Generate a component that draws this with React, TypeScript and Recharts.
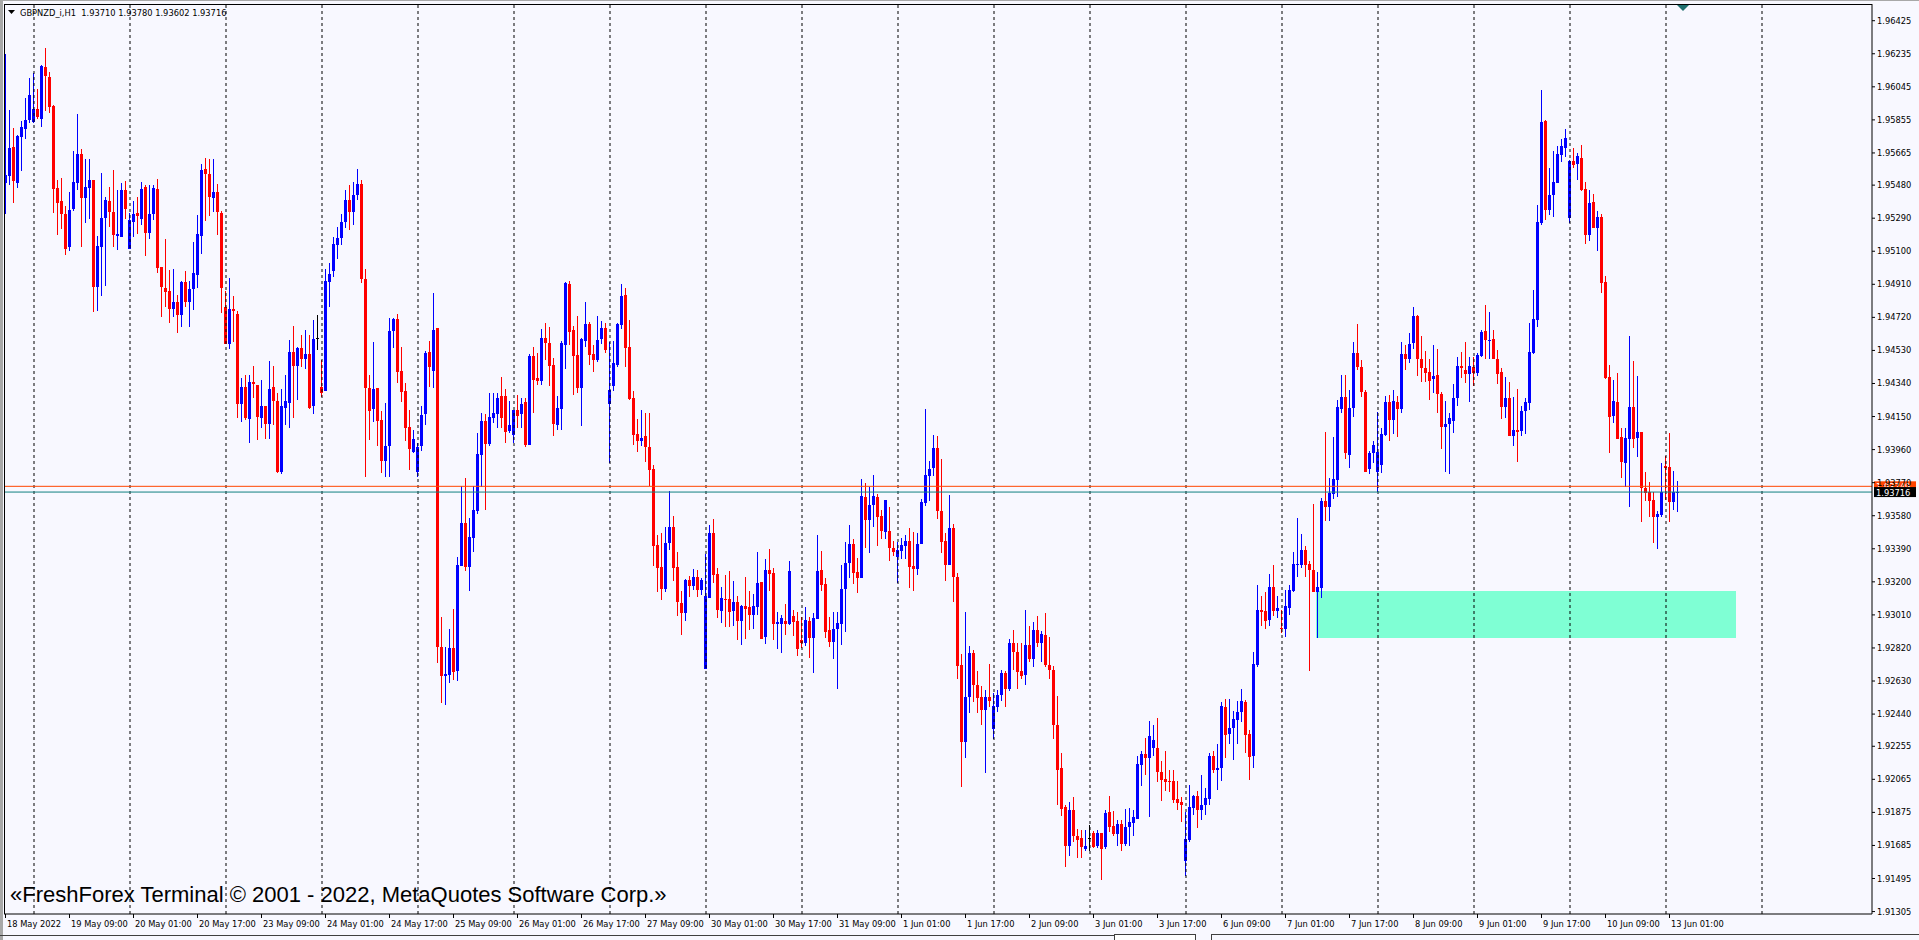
import React from 'react'
import { ComposedChart, Bar, XAxis, YAxis, ReferenceLine, ReferenceArea } from 'recharts'

// GBPNZD H1, prices stored in points (price x 100000)
const opensPts = [
  195494, 195534, 195699, 195494, 195758, 195800, 195854, 195845, 195917, 195860,
  196157, 196101, 195935, 195463, 195389, 195314, 195126, 195343, 195490, 195659,
  195408, 195465, 195509, 194896, 195126, 195293, 195389, 195325, 195189, 195184,
  195452, 195113, 195268, 195322, 195287, 195471, 195207, 195312, 195459, 195009,
  194888, 194873, 194766, 194808, 194733, 194923, 194806, 194881, 194965, 195189,
  195573, 195546, 195408, 195440, 195322, 194781, 194568, 194770, 194741, 194222,
  194321, 194138, 194350, 194333, 194141, 194212, 194105, 194318, 194239, 193831,
  194197, 194229, 194521, 194442, 194544, 194478, 194509, 194212, 194599, 194321,
  194298, 194925, 194984, 195138, 195176, 195267, 195395, 195326, 195424, 195487,
  194938, 194312, 194193, 194312, 194130, 193894, 193980, 194641, 194710, 194411,
  194296, 194090, 193948, 193831, 193980, 194164, 194519, 194413, 194657, 192823,
  192660, 192666, 192819, 192689, 193291, 193538, 193287, 193453, 193609, 193929,
  194124, 193994, 194143, 194164, 194268, 194268, 194067, 194044, 194187, 194164,
  194231, 193988, 194498, 194371, 194356, 194599, 194570, 194446, 194103, 194195,
  194563, 194912, 194647, 194503, 194316, 194586, 194682, 194509, 194475, 194595,
  194660, 194222, 194327, 194446, 194676, 194848, 194547, 194256, 194049, 194011,
  194038, 193975, 193848, 193411, 193287, 193156, 193421, 193513, 193287, 193080,
  193023, 193210, 193178, 193228, 193153, 192697, 193109, 193480, 193247, 193032,
  193101, 193099, 193032, 193084, 192977, 193061, 193055, 193007, 193055, 193199,
  192885, 193268, 193251, 192959, 192959, 192977, 192959, 193003, 192977, 192865,
  192850, 192977, 192877, 192986, 193268, 193187, 192923, 192854, 192931, 192959,
  193159, 193306, 193417, 193256, 193224, 193687, 193555, 193643, 193687, 193578,
  193488, 193492, 193396, 193344, 193379, 193408, 193436, 193293, 193274, 193417,
  193655, 193810, 193854, 193967, 193607, 193435, 193298, 193509, 193228, 192722,
  192281, 192538, 192791, 192607, 192540, 192463, 192540, 192354, 192482, 192549,
  192674, 192586, 192847, 192796, 192688, 192662, 192836, 192754, 192924, 192847,
  192894, 192720, 192694, 192379, 192131, 191907, 191684, 191886, 191737, 191727,
  191667, 191727, 191759, 191682, 191759, 191678, 191877, 191799, 191750, 191807,
  191691, 191791, 191812, 191839, 192150, 192209, 192188, 192247, 192243, 192109,
  192067, 192056, 192056, 191950, 191935, 191593, 191716, 191903, 191967, 191890,
  191916, 191954, 192201, 192116, 192131, 192481, 192328, 192358, 192407, 192454,
  192509, 192326, 192201, 192720, 193038, 193030, 192979, 193168, 193030, 192936,
  192928, 193051, 193147, 193294, 193298, 193381, 193302, 193268, 193140, 193162,
  193666, 193629, 193704, 193785, 194193, 194263, 193928, 194197, 194513, 194432,
  194293, 193850, 193938, 193833, 193871, 194043, 194233, 194130, 194233, 194195,
  194509, 194482, 194570, 194727, 194478, 194427, 194406, 194365, 194387, 194277,
  194091, 194110, 194126, 194254, 194440, 194417, 194394, 194436, 194402, 194498,
  194641, 194586, 194593, 194478, 194404, 194206, 194258, 194040, 194072, 194068,
  194183, 194229, 194513, 194704, 195260, 195850, 195337, 195423, 195494, 195653,
  195695, 195293, 195618, 195601, 195638, 195456, 195193, 195381, 195235, 195298,
  194923, 194379, 194153, 194235, 194030, 193884, 194019, 194202, 194024, 194059,
  193741, 193714, 193670, 193570, 193584, 193867, 193858, 193660, 193710,
]

const highsPts = [
  196234, 195912, 195808, 195768, 195850, 195979, 196096, 196126, 196030, 196170,
  196268, 196130, 195940, 195509, 195521, 195360, 195440, 195676, 195889, 195687,
  195632, 195630, 195509, 195187, 195550, 195412, 195471, 195567, 195452, 195490,
  195505, 195318, 195389, 195413, 195498, 195482, 195479, 195482, 195513, 195009,
  195170, 194992, 194996, 194846, 194931, 194986, 194927, 195153, 195308, 195601,
  195634, 195628, 195632, 195486, 195333, 194873, 194946, 194842, 194758, 194371,
  194388, 194388, 194442, 194333, 194360, 194212, 194469, 194442, 194287, 194308,
  194388, 194590, 194672, 194551, 194620, 194647, 194620, 194705, 194733, 194475,
  194999, 195032, 195184, 195237, 195313, 195452, 195481, 195500, 195572, 195510,
  195000, 194387, 194580, 194312, 194183, 194230, 194714, 194714, 194739, 194547,
  194341, 194187, 194072, 193996, 194210, 194528, 194584, 194858, 194657, 192996,
  192827, 192928, 193042, 193344, 193750, 193795, 193565, 193750, 194053, 194168,
  194164, 194283, 194283, 194287, 194377, 194308, 194241, 194187, 194272, 194254,
  194254, 194507, 194549, 194513, 194651, 194685, 194662, 194484, 194268, 194586,
  194923, 194931, 194670, 194730, 194599, 194806, 194691, 194561, 194728, 194701,
  194685, 194580, 194586, 194687, 194912, 194887, 194705, 194298, 194136, 194187,
  194168, 194168, 193871, 193469, 193478, 193517, 193722, 193578, 193371, 193147,
  193215, 193233, 193274, 193268, 193220, 193360, 193525, 193561, 193277, 193168,
  193241, 193260, 193205, 193118, 193067, 193228, 193147, 193130, 193371, 193199,
  193331, 193389, 193277, 193026, 193009, 193072, 193320, 193038, 193026, 192999,
  193055, 192999, 193019, 193469, 193377, 193222, 192998, 193026, 193026, 193297,
  193429, 193526, 193446, 193335, 193791, 193768, 193743, 193814, 193705, 193613,
  193670, 193628, 193436, 193431, 193450, 193471, 193511, 193488, 193479, 193678,
  194193, 193894, 194044, 194038, 193906, 193479, 193699, 193532, 193253, 192785,
  193026, 192831, 192808, 192687, 192603, 192578, 192726, 192559, 192578, 192693,
  192687, 192873, 192922, 192847, 192847, 193038, 192949, 192970, 193002, 192917,
  193021, 192885, 192715, 192545, 192216, 191918, 191935, 191961, 191780, 191776,
  191776, 191801, 191769, 191776, 191759, 191890, 191971, 191882, 191833, 191833,
  191897, 191903, 191886, 192201, 192230, 192301, 192403, 192379, 192418, 192173,
  192230, 192116, 192120, 192056, 191961, 191876, 192031, 191975, 191997, 192088,
  192018, 192216, 192230, 192269, 192507, 192524, 192528, 192460, 192513, 192584,
  192520, 192350, 192796, 193183, 193119, 193141, 193247, 193294, 193119, 193038,
  193151, 193183, 193370, 193566, 193476, 193406, 193321, 193646, 193257, 193683,
  194061, 193795, 194033, 194246, 194388, 194388, 194302, 194576, 194682, 194475,
  194302, 193953, 194011, 194177, 194082, 194268, 194273, 194302, 194268, 194580,
  194559, 194632, 194781, 194735, 194613, 194526, 194482, 194561, 194536, 194291,
  194239, 194172, 194337, 194494, 194523, 194576, 194490, 194490, 194513, 194647,
  194791, 194752, 194647, 194532, 194427, 194379, 194350, 194260, 194308, 194210,
  194254, 194689, 194877, 195366, 196027, 195854, 195576, 195678, 195705, 195743,
  195802, 195624, 195691, 195663, 195710, 195500, 195452, 195429, 195333, 195312,
  194957, 194446, 194360, 194398, 194082, 194082, 194613, 194471, 194385, 194063,
  193833, 193775, 193714, 193609, 193881, 193925, 194057, 193838, 193780,
]

const lowsPts = [
  195314, 195481, 195379, 195465, 195563, 195747, 195835, 195835, 195860, 195816,
  195908, 195896, 195321, 195195, 195226, 195076, 195103, 195333, 195452, 195126,
  195264, 195283, 194752, 194758, 194844, 194900, 195241, 195126, 195107, 195184,
  195285, 195113, 195184, 195197, 195251, 195074, 195170, 195279, 194973, 194724,
  194781, 194685, 194724, 194628, 194666, 194781, 194662, 194762, 194887, 195082,
  195276, 195304, 195327, 195193, 194747, 194568, 194536, 194580, 194141, 194118,
  194130, 193999, 194254, 194015, 194084, 194022, 194022, 194101, 193823, 193819,
  194101, 194086, 194141, 194247, 194436, 194421, 194193, 194164, 194532, 194264,
  194298, 194781, 194954, 195057, 195135, 195233, 195222, 195250, 195395, 194917,
  193804, 194015, 194118, 193980, 193827, 193804, 193804, 194542, 194341, 194235,
  194011, 193842, 193942, 193804, 193952, 194101, 194321, 194316, 192735, 192501,
  192490, 192620, 192635, 192631, 193291, 193264, 193149, 193373, 193590, 193747,
  193612, 193982, 194111, 194086, 194086, 193996, 194053, 193996, 194082, 194082,
  193975, 193988, 194172, 194331, 194331, 194475, 194327, 194040, 194072, 194072,
  194423, 194561, 194275, 194283, 194097, 194547, 194444, 194408, 194465, 194567,
  194517, 193885, 194298, 194433, 194651, 194436, 194245, 193988, 193948, 193982,
  193890, 193750, 193293, 193143, 193095, 193143, 193383, 193206, 193003, 192894,
  192977, 193115, 193153, 193115, 193126, 192697, 193109, 193195, 192992, 192965,
  192942, 192942, 192946, 192865, 192837, 192869, 192923, 192927, 193009, 192871,
  192843, 193147, 192865, 192814, 192791, 192892, 192952, 192888, 192774, 192818,
  192831, 192764, 192678, 192986, 193147, 192879, 192827, 192756, 192586, 192837,
  192913, 193224, 193189, 193138, 193224, 193392, 193366, 193517, 193408, 193446,
  193446, 193320, 193350, 193195, 193329, 193329, 193162, 193149, 193239, 193417,
  193636, 193666, 193810, 193559, 193367, 193207, 193298, 193086, 192639, 192022,
  192185, 192444, 192511, 192444, 192377, 192099, 192482, 192298, 192450, 192515,
  192482, 192574, 192694, 192584, 192641, 192605, 192737, 192709, 192828, 192741,
  192713, 192641, 192294, 191918, 191854, 191563, 191627, 191705, 191614, 191614,
  191652, 191652, 191669, 191673, 191486, 191663, 191763, 191737, 191684, 191652,
  191684, 191684, 191737, 191839, 192024, 192088, 191848, 192201, 192052, 191939,
  191997, 191993, 191929, 191886, 191818, 191508, 191705, 191861, 191784, 191833,
  191859, 191918, 192103, 192003, 192056, 192188, 192269, 192178, 192269, 192396,
  192216, 192060, 192131, 192709, 192949, 192928, 192949, 193002, 192992, 192907,
  192885, 193009, 193141, 193226, 193277, 193230, 192690, 193140, 192875, 193109,
  193551, 193551, 193678, 193687, 194172, 193906, 193852, 194149, 194417, 194264,
  193833, 193819, 193884, 193714, 193827, 194038, 194011, 194049, 194034, 194172,
  194417, 194459, 194536, 194383, 194350, 194350, 194245, 194283, 194168, 193961,
  193833, 193817, 194057, 194212, 194369, 194344, 194235, 194325, 194383, 194494,
  194480, 194482, 194482, 194337, 194135, 194143, 194038, 193982, 193890, 194038,
  194049, 194187, 194509, 194666, 195251, 195279, 195308, 195298, 195490, 195615,
  195643, 195264, 195576, 195509, 195446, 195141, 195160, 195235, 195101, 194862,
  194364, 193942, 194114, 194020, 193794, 193743, 193632, 193967, 193919, 193545,
  193666, 193574, 193425, 193386, 193574, 193670, 193545, 193612, 193602,
]

const closesPts = [
  195538, 195695, 195505, 195762, 195812, 195854, 195998, 195917, 195873, 196165,
  196107, 195931, 195459, 195375, 195312, 195115, 195337, 195498, 195659, 195408,
  195471, 195509, 194896, 195130, 195289, 195394, 195327, 195195, 195199, 195452,
  195343, 195279, 195316, 195304, 195459, 195207, 195316, 195463, 195003, 194892,
  194867, 194766, 194808, 194733, 194923, 194806, 194885, 194973, 195199, 195567,
  195546, 195412, 195440, 195325, 194888, 194568, 194766, 194758, 194222, 194321,
  194141, 194350, 194337, 194149, 194212, 194105, 194308, 194237, 193831, 194212,
  194239, 194521, 194442, 194544, 194478, 194509, 194197, 194595, 194599, 194283,
  194929, 194969, 195141, 195176, 195267, 195395, 195326, 195424, 195487, 194940,
  194312, 194183, 194310, 194126, 193894, 193980, 194641, 194710, 194408, 194293,
  194086, 193963, 194019, 193975, 194159, 194515, 194436, 194647, 192827, 192660,
  192670, 192819, 192683, 193296, 193538, 193287, 193457, 193612, 193934, 194124,
  193994, 194147, 194170, 194258, 194143, 194063, 194101, 194187, 194155, 194222,
  193988, 194498, 194360, 194354, 194599, 194570, 194442, 194107, 194199, 194572,
  194915, 194637, 194500, 194316, 194595, 194682, 194505, 194475, 194590, 194657,
  194532, 194302, 194456, 194682, 194843, 194545, 194252, 194045, 194011, 194026,
  193975, 193842, 193407, 193281, 193156, 193421, 193513, 193281, 193086, 193023,
  193210, 193178, 193228, 193153, 193210, 193118, 193480, 193241, 193038, 193105,
  193097, 193026, 193084, 192977, 193059, 193044, 193007, 193061, 193195, 192871,
  193268, 193247, 192959, 192971, 192990, 192959, 193262, 192971, 192814, 192846,
  192980, 192877, 192990, 193262, 193182, 192913, 192854, 192927, 192963, 193159,
  193306, 193417, 193251, 193224, 193691, 193555, 193640, 193691, 193574, 193494,
  193670, 193396, 193373, 193383, 193412, 193436, 193287, 193274, 193417, 193659,
  193814, 193848, 193967, 193605, 193431, 193298, 193509, 193228, 192718, 192281,
  192538, 192791, 192607, 192534, 192463, 192540, 192515, 192486, 192549, 192674,
  192586, 192846, 192796, 192683, 192656, 192836, 192754, 192924, 192847, 192900,
  192720, 192694, 192379, 192116, 191897, 191684, 191886, 191737, 191716, 191674,
  191684, 191727, 191678, 191759, 191667, 191874, 191790, 191750, 191810, 191695,
  191791, 191818, 191848, 192154, 192209, 192188, 192316, 192290, 192109, 192060,
  192052, 192052, 191946, 191929, 191916, 191720, 191907, 191971, 191890, 191920,
  191958, 192201, 192116, 192131, 192486, 192322, 192358, 192411, 192454, 192513,
  192322, 192194, 192726, 193038, 193024, 192975, 193168, 193030, 193051, 192928,
  193060, 193151, 193300, 193302, 193381, 193298, 193268, 193140, 193172, 193666,
  193629, 193708, 193789, 194203, 194263, 193938, 194197, 194513, 194432, 194293,
  193833, 193938, 193986, 193947, 194049, 194233, 194130, 194239, 194195, 194509,
  194482, 194567, 194727, 194478, 194427, 194402, 194356, 194383, 194277, 194091,
  194110, 194139, 194254, 194440, 194427, 194394, 194440, 194402, 194503, 194637,
  194590, 194590, 194482, 194394, 194206, 194258, 194040, 194072, 194063, 194183,
  194231, 194521, 194708, 195266, 195845, 195337, 195423, 195500, 195659, 195705,
  195753, 195618, 195595, 195647, 195452, 195193, 195379, 195235, 195298, 194919,
  194373, 194149, 194241, 194020, 193890, 194024, 194202, 194019, 194059, 193737,
  193712, 193666, 193570, 193589, 193714, 193856, 193660, 193714, 193716,
]

// one label every 16 bars, starting at the first bar
const timeLabels = [
  '18 May 2022', '19 May 09:00', '20 May 01:00', '20 May 17:00', '23 May 09:00',
  '24 May 01:00', '24 May 17:00', '25 May 09:00', '26 May 01:00', '26 May 17:00',
  '27 May 09:00', '30 May 01:00', '30 May 17:00', '31 May 09:00', '1 Jun 01:00',
  '1 Jun 17:00', '2 Jun 09:00', '3 Jun 01:00', '3 Jun 17:00', '6 Jun 09:00',
  '7 Jun 01:00', '7 Jun 17:00', '8 Jun 09:00', '9 Jun 01:00', '9 Jun 17:00',
  '10 Jun 09:00', '13 Jun 01:00',
]

// bars at 00:00 (day separators)
const daySeparators = [7, 31, 55, 79, 103, 127, 151, 175, 199, 223, 247, 271, 295, 319, 343, 367, 391, 415, 439]

const priceTicks = [
  1.96425, 1.96235, 1.96045, 1.95855, 1.95665, 1.9548, 1.9529, 1.951, 1.9491, 1.9472,
  1.9453, 1.9434, 1.9415, 1.9396, 1.9377, 1.9358, 1.9339, 1.932, 1.9301, 1.9282,
  1.9263, 1.9244, 1.92255, 1.92065, 1.91875, 1.91685, 1.91495, 1.91305,
]

const BID = 1.93716
const ASK = 1.93749
const zoneBars = [328, 432]
const zonePrices = [1.92877, 1.93148]

const SLOTS = 467
const BG = '#f8f8ff'
const BULL = '#0000ff'
const BEAR = '#ff0000'
const FONT = '"DejaVu Sans", Tahoma, sans-serif'

const data = Array.from({ length: SLOTS }, (_, i) =>
  i < opensPts.length
    ? { idx: i, o: opensPts[i] / 1e5, h: highsPts[i] / 1e5, l: lowsPts[i] / 1e5, c: closesPts[i] / 1e5 }
    : { idx: i }
)

const labelIdx = timeLabels.map((_, i) => i * 16)

function Candle(props: any) {
  const { x, y, height, payload } = props
  if (!payload || payload.o == null) return null
  const { o, h, l, c } = payload
  const hi = Math.max(h, o, c)
  const lo = Math.min(l, o, c)
  const top = Math.min(y, y + height)
  const span = Math.abs(height)
  const k = hi > lo ? span / (hi - lo) : 0
  const color = c > o ? BULL : c < o ? BEAR : '#000'
  const bx = Math.round(x)
  const bodyTop = top + (hi - Math.max(o, c)) * k
  const bodyH = Math.max(1, Math.abs(c - o) * k)
  return (
    <g shapeRendering="crispEdges">
      <rect x={bx + 1} y={top} width={1} height={Math.max(1, span)} fill={color} />
      <rect x={bx} y={bodyTop} width={3} height={bodyH} fill={color} />
    </g>
  )
}

function TimeTick(props: any) {
  const { x, y, payload } = props
  const n = labelIdx.indexOf(payload.value)
  return (
    <g>
      <line x1={x - 0.5} x2={x - 0.5} y1={y} y2={y + 4} stroke="#000" />
      <text x={x + 1} y={y + 12.5} fontSize={8.3} fontFamily={FONT} fill="#000">
        {n >= 0 ? timeLabels[n] : ''}
      </text>
    </g>
  )
}

function PriceTick(props: any) {
  const { x, y, payload } = props
  return (
    <g>
      <line x1={x} x2={x + 3} y1={y} y2={y} stroke="#000" />
      <text x={x + 5} y={y + 3} fontSize={8.3} fontFamily={FONT} fill="#000">
        {Number(payload.value).toFixed(5)}
      </text>
    </g>
  )
}

function priceTag(value: number, bg: string) {
  return (p: any) => {
    const vb = p.viewBox || {}
    const right = (vb.x || 0) + (vb.width || 0)
    const yy = vb.y || 0
    return (
      <g>
        <rect x={right + 2} y={yy - 5} width={42} height={10} fill={bg} />
        <text x={right + 4} y={yy + 3.5} fontSize={8.3} fontFamily={FONT} fill="#fff">
          {value.toFixed(5)}
        </text>
      </g>
    )
  }
}

export default function App() {
  return (
    <div style={{ position: 'relative', width: 1919, height: 940, background: BG, overflow: 'hidden' }}>
      <style>{`body{margin:0;background:${BG}}`}</style>
      <ComposedChart
        width={1919}
        height={940}
        data={data}
        margin={{ top: 4, right: 0, bottom: 0, left: 4 }}
        barCategoryGap={0}
        barGap={0}
      >
        <XAxis
          dataKey="idx"
          type="category"
          height={26}
          ticks={labelIdx}
          interval={0}
          tickLine={false}
          tickSize={0}
          tickMargin={0}
          axisLine={{ stroke: '#000' }}
          tick={<TimeTick />}
        />
        <YAxis
          orientation="right"
          type="number"
          domain={[1.91291, 1.96521]}
          allowDataOverflow
          ticks={priceTicks}
          interval={0}
          width={47}
          tickLine={false}
          tickSize={0}
          tickMargin={0}
          axisLine={{ stroke: '#000' }}
          tick={<PriceTick />}
        />
        <ReferenceArea
          x1={zoneBars[0]}
          x2={zoneBars[1]}
          y1={zonePrices[0]}
          y2={zonePrices[1]}
          fill="#7fffd4"
          fillOpacity={1}
          stroke="none"
        />
        {daySeparators.map((d) => (
          <ReferenceLine key={d} x={d} stroke="#000" strokeDasharray="3 3" />
        ))}
        <Bar
          dataKey={(d: any) => (d.o == null ? null : [Math.min(d.l, d.o, d.c), Math.max(d.h, d.o, d.c)])}
          shape={(p: any) => <Candle {...p} />}
          isAnimationActive={false}
        />
        <ReferenceLine y={ASK} stroke="#ff4500" label={priceTag(ASK, '#ff4500')} />
        <ReferenceLine y={BID} stroke="#108080" label={priceTag(BID, '#000')} />
      </ComposedChart>

      {/* frame top / left */}
      <div style={{ position: 'absolute', left: 4, top: 4, width: 1868, height: 910, borderTop: '1px solid #000', borderLeft: '1px solid #000', boxSizing: 'border-box', pointerEvents: 'none' }} />
      {/* window edges */}
      <div style={{ position: 'absolute', left: 0, top: 0, width: 3, height: 940, background: '#a8a8a8' }} />
      <div style={{ position: 'absolute', left: 0, top: 0, width: 1919, height: 1, background: '#a8a8a8' }} />

      {/* header */}
      <svg style={{ position: 'absolute', left: 0, top: 0 }} width={400} height={20}>
        <polygon points="8,10 15,10 11.5,14" fill="#000" />
        <text x={20} y={16} fontSize={8.3} fontFamily={FONT} fill="#000" xmlSpace="preserve">
          {'GBPNZD_i,H1  1.93710 1.93780 1.93602 1.93716'}
        </text>
      </svg>

      {/* chart shift marker */}
      <svg style={{ position: 'absolute', left: 1674, top: 4 }} width={20} height={10}>
        <polygon points="3,1 15,1 9,7" fill="#1f6f6f" />
      </svg>

      {/* copyright watermark */}
      <svg style={{ position: 'absolute', left: 0, top: 870 }} width={800} height={44}>
        <text x={10} y={32} fontSize={22} fontFamily='"Liberation Sans", Arial, sans-serif' fill="#000">
          «FreshForex Terminal © 2001 - 2022, MetaQuotes Software Corp.»
        </text>
      </svg>

      {/* bottom tab strip */}
      <div style={{ position: 'absolute', left: 0, top: 935, width: 1114, height: 1, background: '#404040' }} />
      <div style={{ position: 'absolute', left: 1114, top: 934, width: 80, height: 8, border: '1px solid #404040', borderBottom: 'none', background: '#fff' }} />
      <div style={{ position: 'absolute', left: 1211, top: 934, width: 708, height: 8, border: '1px solid #404040', borderBottom: 'none', borderRight: 'none' }} />
    </div>
  )
}
